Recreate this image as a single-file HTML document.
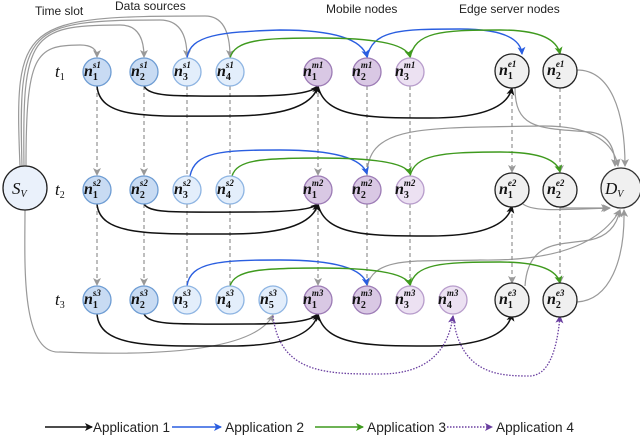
<!DOCTYPE html>
<html><head><meta charset="utf-8"><style>
html,body{margin:0;padding:0;background:#fff}
svg{display:block}
.lb{font-family:"Liberation Sans",sans-serif;font-size:12px;fill:#222}
.lg{font-family:"Liberation Sans",sans-serif;font-size:13.5px;fill:#222}
.n{font-family:"Liberation Serif",serif;font-style:italic;fill:#111}
</style></head><body>
<svg width="640" height="438" viewBox="0 0 640 438" xmlns="http://www.w3.org/2000/svg">
<defs>
<marker id="ak" markerWidth="8" markerHeight="8" refX="7" refY="4" orient="auto" markerUnits="userSpaceOnUse"><path d="M0,0 L8,4 L0,8 L2,4z" fill="#111"/></marker>
<marker id="ab" markerWidth="8" markerHeight="8" refX="7" refY="4" orient="auto" markerUnits="userSpaceOnUse"><path d="M0,0 L8,4 L0,8 L2,4z" fill="#2a5ee0"/></marker>
<marker id="ag" markerWidth="8" markerHeight="8" refX="7" refY="4" orient="auto" markerUnits="userSpaceOnUse"><path d="M0,0 L8,4 L0,8 L2,4z" fill="#3f9a1e"/></marker>
<marker id="ay" markerWidth="8" markerHeight="8" refX="7" refY="4" orient="auto" markerUnits="userSpaceOnUse"><path d="M0,0 L8,4 L0,8 L2,4z" fill="#999"/></marker>
<marker id="ap" markerWidth="8" markerHeight="8" refX="7" refY="4" orient="auto" markerUnits="userSpaceOnUse"><path d="M0,0 L8,4 L0,8 L2,4z" fill="#6a3fa0"/></marker>
</defs>

<text class="lb" x="35" y="15">Time slot</text>
<text class="lb" x="115" y="10">Data sources</text>
<text class="lb" x="326" y="13">Mobile nodes</text>
<text class="lb" x="459" y="13">Edge server nodes</text>

<g fill="none" stroke="#999" stroke-width="1.2">
<path d="M26,166 C26,55 35,45 80,45 Q97,45 97,57" marker-end="url(#ay)"/>
<path d="M24,166 C22,35 30,25 120,25 Q144,25 144,57" marker-end="url(#ay)"/>
<path d="M22,166 C18,28 25,20 160,20 Q187,20 187,57" marker-end="url(#ay)"/>
<path d="M20,166 C14,22 20,16 205,16 Q230,16 230,57" marker-end="url(#ay)"/>
<path d="M25,210 C25,260 20,355 60,352 Q250,360 273,315" marker-end="url(#ay)"/>
<path d="M515,88 C515,130 540,128 590,132 Q615,135 615,166" marker-end="url(#ay)"/>
<path d="M577,70 C610,70 625,110 625,166" marker-end="url(#ay)"/>
<path d="M367,176 C367,125 420,128 540,126 Q610,125 618,166" marker-end="url(#ay)"/>
<path d="M522,203 C530,212 560,210 610,208" marker-end="url(#ay)"/>
<path d="M560,208 L608,208" marker-end="url(#ay)"/>
<path d="M367,286 C375,255 420,262 480,260 Q590,262 620,210" marker-end="url(#ay)"/>
<path d="M525,286 C528,240 560,245 590,240 Q615,235 620,210" marker-end="url(#ay)"/>
<path d="M577,302 C610,300 625,260 624,210" marker-end="url(#ay)"/>
</g>

<g fill="none" stroke="#888" stroke-width="1.1" stroke-dasharray="4,3">
<path d="M97,86 V175" marker-end="url(#ay)"/><path d="M144,86 V175" marker-end="url(#ay)"/>
<path d="M187,86 V175"/><path d="M230,86 V175" />
<path d="M318,86 V175" marker-end="url(#ay)"/><path d="M367,86 V175"/><path d="M410,86 V175"/>
<path d="M512,88 V172" marker-end="url(#ay)"/><path d="M560,88 V172" marker-end="url(#ay)"/>
<path d="M97,204 V285" marker-end="url(#ay)"/><path d="M144,204 V285" marker-end="url(#ay)"/>
<path d="M187,204 V285"/><path d="M230,204 V285"/>
<path d="M318,204 V285" marker-end="url(#ay)"/><path d="M367,204 V285"/><path d="M410,204 V285"/>
<path d="M512,207 V283" marker-end="url(#ay)"/><path d="M560,207 V283" marker-end="url(#ay)"/>
</g>

<g fill="none" stroke="#111" stroke-width="1.5">
<path d="M144,86 C150,98 180,96 250,96 Q310,96 318,86" marker-end="url(#ak)"/>
<path d="M97,86 C100,120 150,116 230,116 Q310,116 318,86" marker-end="url(#ak)"/>
<path d="M318,86 C325,118 370,118 430,118 Q505,118 512,88" marker-end="url(#ak)"/>
<path d="M144,204 C150,214 180,212 250,212 Q310,212 318,204" marker-end="url(#ak)"/>
<path d="M97,204 C100,236 150,234 230,234 Q310,234 318,204" marker-end="url(#ak)"/>
<path d="M318,204 C325,236 370,236 430,236 Q505,236 512,206" marker-end="url(#ak)"/>
<path d="M144,314 C150,326 180,324 250,324 Q310,324 318,314" marker-end="url(#ak)"/>
<path d="M97,314 C100,348 150,346 230,346 Q310,346 318,314" marker-end="url(#ak)"/>
<path d="M318,314 C325,346 370,346 430,346 Q505,346 512,314" marker-end="url(#ak)"/>
</g>

<g fill="none" stroke="#2a5ee0" stroke-width="1.4">
<path d="M187,58 C190,35 220,32 280,30 Q360,30 367,57" marker-end="url(#ab)"/>
<path d="M367,58 C372,30 400,29 460,29 Q520,29 522,54" marker-end="url(#ab)"/>
<path d="M190,176 C195,152 220,150 280,150 Q360,150 367,174" marker-end="url(#ab)"/>
<path d="M187,286 C190,262 220,260 280,260 Q362,260 367,285" marker-end="url(#ab)"/>
</g>
<g fill="none" stroke="#3f9a1e" stroke-width="1.4">
<path d="M230,58 C235,40 260,38 320,38 Q405,38 410,57" marker-end="url(#ag)"/>
<path d="M410,58 C415,32 440,30 500,30 Q555,30 560,54" marker-end="url(#ag)"/>
<path d="M232,176 C237,160 260,158 320,158 Q405,158 410,174" marker-end="url(#ag)"/>
<path d="M410,176 C415,155 440,152 500,152 Q555,152 560,172" marker-end="url(#ag)"/>
<path d="M230,286 C235,270 260,268 320,268 Q405,268 410,285" marker-end="url(#ag)"/>
<path d="M410,286 C415,264 440,262 500,262 Q555,262 560,283" marker-end="url(#ag)"/>
</g>
<g fill="none" stroke="#6a3fa0" stroke-width="1.3" stroke-dasharray="1.5,1.5">
<path d="M273,316 C280,375 330,374 380,374 Q445,374 453,316" marker-end="url(#ap)"/>
<path d="M453,316 C460,375 500,376 530,376 Q555,375 560,316" marker-end="url(#ap)"/>
</g>

<g stroke-width="1.3">
<circle cx="25" cy="188" r="22" fill="#eaf1fb" stroke="#222"/>
<circle cx="621" cy="188" r="20" fill="#f0f0f0" stroke="#333"/>
<g fill="#c8dbf3" stroke="#6d9cd3">
<circle cx="97" cy="72" r="14"/><circle cx="144" cy="72" r="14"/>
<circle cx="97" cy="190" r="14"/><circle cx="144" cy="190" r="14"/>
<circle cx="97" cy="300" r="14"/><circle cx="144" cy="300" r="14"/>
</g>
<g fill="#e3eefb" stroke="#8db4e2">
<circle cx="187" cy="72" r="14"/><circle cx="230" cy="72" r="14"/>
<circle cx="187" cy="190" r="14"/><circle cx="230" cy="190" r="14"/>
<circle cx="187" cy="300" r="14"/><circle cx="230" cy="300" r="14"/><circle cx="273" cy="300" r="14"/>
</g>
<g fill="#d9c8e4" stroke="#9c7bb5">
<circle cx="318" cy="72" r="14"/><circle cx="367" cy="72" r="14"/>
<circle cx="318" cy="190" r="14"/><circle cx="367" cy="190" r="14"/>
<circle cx="318" cy="300" r="14"/><circle cx="367" cy="300" r="14"/>
</g>
<g fill="#ece1f2" stroke="#b79ccb">
<circle cx="410" cy="72" r="14"/><circle cx="410" cy="190" r="14"/>
<circle cx="410" cy="300" r="14"/><circle cx="453" cy="300" r="14"/>
</g>
<g fill="#f0f0f0" stroke="#222">
<circle cx="512" cy="71" r="17"/><circle cx="560" cy="71" r="17"/>
<circle cx="512" cy="190" r="17"/><circle cx="560" cy="190" r="17"/>
<circle cx="512" cy="300" r="17"/><circle cx="560" cy="300" r="17"/>
</g>
</g>

<g class="n" font-size="17">
<text x="12" y="194">S<tspan font-size="10" dy="3">V</tspan></text>
<text x="605" y="194">D<tspan font-size="10" dy="3">V</tspan></text>
<text x="55" y="77">t<tspan font-size="10" dy="3" font-style="normal">1</tspan></text>
<text x="55" y="195">t<tspan font-size="10" dy="3" font-style="normal">2</tspan></text>
<text x="55" y="305">t<tspan font-size="10" dy="3" font-style="normal">3</tspan></text>
</g>
<g class="n" font-size="16" font-weight="bold">
<text x="84" y="76">n<tspan font-size="10" dy="4" font-style="normal">1</tspan><tspan font-size="9" dx="-5" dy="-12">s1</tspan></text>
<text x="131" y="76">n<tspan font-size="10" dy="4" font-style="normal">2</tspan><tspan font-size="9" dx="-5" dy="-12">s1</tspan></text>
<text x="174" y="76">n<tspan font-size="10" dy="4" font-style="normal">3</tspan><tspan font-size="9" dx="-5" dy="-12">s1</tspan></text>
<text x="217" y="76">n<tspan font-size="10" dy="4" font-style="normal">4</tspan><tspan font-size="9" dx="-5" dy="-12">s1</tspan></text>
<text x="303" y="76">n<tspan font-size="10" dy="4" font-style="normal">1</tspan><tspan font-size="9" dx="-5" dy="-12">m1</tspan></text>
<text x="352" y="76">n<tspan font-size="10" dy="4" font-style="normal">2</tspan><tspan font-size="9" dx="-5" dy="-12">m1</tspan></text>
<text x="395" y="76">n<tspan font-size="10" dy="4" font-style="normal">3</tspan><tspan font-size="9" dx="-5" dy="-12">m1</tspan></text>
<text x="499" y="75">n<tspan font-size="10" dy="4" font-style="normal">1</tspan><tspan font-size="9" dx="-5" dy="-12">e1</tspan></text>
<text x="547" y="75">n<tspan font-size="10" dy="4" font-style="normal">2</tspan><tspan font-size="9" dx="-5" dy="-12">e1</tspan></text>
<text x="84" y="194">n<tspan font-size="10" dy="4" font-style="normal">1</tspan><tspan font-size="9" dx="-5" dy="-12">s2</tspan></text>
<text x="131" y="194">n<tspan font-size="10" dy="4" font-style="normal">2</tspan><tspan font-size="9" dx="-5" dy="-12">s2</tspan></text>
<text x="174" y="194">n<tspan font-size="10" dy="4" font-style="normal">3</tspan><tspan font-size="9" dx="-5" dy="-12">s2</tspan></text>
<text x="217" y="194">n<tspan font-size="10" dy="4" font-style="normal">4</tspan><tspan font-size="9" dx="-5" dy="-12">s2</tspan></text>
<text x="303" y="194">n<tspan font-size="10" dy="4" font-style="normal">1</tspan><tspan font-size="9" dx="-5" dy="-12">m2</tspan></text>
<text x="352" y="194">n<tspan font-size="10" dy="4" font-style="normal">2</tspan><tspan font-size="9" dx="-5" dy="-12">m2</tspan></text>
<text x="395" y="194">n<tspan font-size="10" dy="4" font-style="normal">3</tspan><tspan font-size="9" dx="-5" dy="-12">m2</tspan></text>
<text x="499" y="194">n<tspan font-size="10" dy="4" font-style="normal">1</tspan><tspan font-size="9" dx="-5" dy="-12">e2</tspan></text>
<text x="547" y="194">n<tspan font-size="10" dy="4" font-style="normal">2</tspan><tspan font-size="9" dx="-5" dy="-12">e2</tspan></text>
<text x="84" y="304">n<tspan font-size="10" dy="4" font-style="normal">1</tspan><tspan font-size="9" dx="-5" dy="-12">s3</tspan></text>
<text x="131" y="304">n<tspan font-size="10" dy="4" font-style="normal">2</tspan><tspan font-size="9" dx="-5" dy="-12">s3</tspan></text>
<text x="174" y="304">n<tspan font-size="10" dy="4" font-style="normal">3</tspan><tspan font-size="9" dx="-5" dy="-12">s3</tspan></text>
<text x="217" y="304">n<tspan font-size="10" dy="4" font-style="normal">4</tspan><tspan font-size="9" dx="-5" dy="-12">s3</tspan></text>
<text x="260" y="304">n<tspan font-size="10" dy="4" font-style="normal">5</tspan><tspan font-size="9" dx="-5" dy="-12">s3</tspan></text>
<text x="303" y="304">n<tspan font-size="10" dy="4" font-style="normal">1</tspan><tspan font-size="9" dx="-5" dy="-12">m3</tspan></text>
<text x="352" y="304">n<tspan font-size="10" dy="4" font-style="normal">2</tspan><tspan font-size="9" dx="-5" dy="-12">m3</tspan></text>
<text x="395" y="304">n<tspan font-size="10" dy="4" font-style="normal">3</tspan><tspan font-size="9" dx="-5" dy="-12">m3</tspan></text>
<text x="438" y="304">n<tspan font-size="10" dy="4" font-style="normal">4</tspan><tspan font-size="9" dx="-5" dy="-12">m3</tspan></text>
<text x="499" y="304">n<tspan font-size="10" dy="4" font-style="normal">1</tspan><tspan font-size="9" dx="-5" dy="-12">e3</tspan></text>
<text x="547" y="304">n<tspan font-size="10" dy="4" font-style="normal">2</tspan><tspan font-size="9" dx="-5" dy="-12">e3</tspan></text>
</g>

<g fill="none" stroke-width="1.5">
<path d="M45,427 H92" stroke="#111" marker-end="url(#ak)"/>
<path d="M172,427 H221" stroke="#2a5ee0" marker-end="url(#ab)"/>
<path d="M315,427 H363" stroke="#3f9a1e" marker-end="url(#ag)"/>
<path d="M447,427 H492" stroke="#6a3fa0" stroke-dasharray="1.5,1.5" marker-end="url(#ap)"/>
</g>
<g class="lg">
<text x="93" y="432" textLength="77" lengthAdjust="spacingAndGlyphs">Application 1</text>
<text x="225" y="432" textLength="79" lengthAdjust="spacingAndGlyphs">Application 2</text>
<text x="367" y="432" textLength="79" lengthAdjust="spacingAndGlyphs">Application 3</text>
<text x="496" y="432" textLength="78" lengthAdjust="spacingAndGlyphs">Application 4</text>
</g>
</svg>
</body></html>
